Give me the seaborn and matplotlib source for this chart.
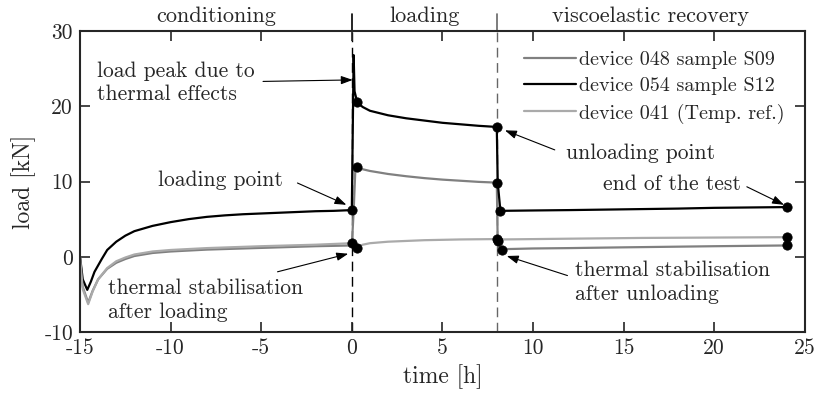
import matplotlib
matplotlib.use('Agg')
import matplotlib.pyplot as plt
import seaborn as sns
import pandas as pd

# values (time in h, load in kN)
t_054 = [-15, -14.85, -14.6, -14.4, -14.2, -13.8, -13.5, -13.0, -12.5, -12.0, -11.0, -10.0,
         -9.0, -8.0, -7.0, -6.0, -5.0, -4.0, -3.0, -2.0, -1.0, 0.0, 0.1, 0.15, 0.3, 0.6,
         1.0, 2.0, 3.0, 4.0, 5.0, 6.0, 7.0, 8.0, 8.05, 8.2, 10.0, 12.0, 15.0, 18.0, 20.0, 24.0]
y_054 = [0, -3.0, -4.4, -3.3, -2.0, -0.3, 0.9, 2.0, 2.8, 3.4, 4.1, 4.6,
         5.0, 5.3, 5.5, 5.65, 5.75, 5.85, 5.95, 6.05, 6.1, 6.2, 26.8, 22.0, 20.5, 19.9,
         19.4, 18.8, 18.4, 18.1, 17.8, 17.6, 17.4, 17.25, 9.9, 6.1, 6.15, 6.2, 6.3, 6.4, 6.5, 6.6]

t_048 = [-15, -14.85, -14.55, -14.3, -14.0, -13.5, -13.0, -12.5, -12.0, -11.0, -10.0, -8.0,
         -6.0, -4.0, -2.0, 0.0, 0.1, 0.2, 0.3, 1.0, 2.0, 3.0, 4.0, 5.0, 6.0, 7.0, 8.0,
         8.05, 8.2, 10.0, 12.0, 15.0, 20.0, 24.0]
y_048 = [0, -4.0, -6.1, -4.5, -3.0, -1.6, -0.8, -0.3, 0.1, 0.5, 0.7, 0.95,
         1.1, 1.25, 1.4, 1.5, 6.0, 11.9, 11.8, 11.4, 11.0, 10.7, 10.45, 10.25, 10.1, 9.95, 9.85,
         2.0, 1.0, 1.1, 1.15, 1.25, 1.4, 1.5]

t_041 = [-15, -14.85, -14.55, -14.3, -14.0, -13.5, -13.0, -12.5, -12.0, -11.0, -10.0, -8.0,
         -5.0, -2.0, 0.0, 0.1, 0.3, 0.6, 1.0, 2.0, 4.0, 6.0, 8.0, 8.1, 8.3, 12.0, 16.0,
         20.0, 24.0]
y_041 = [0, -4.3, -6.3, -4.6, -3.0, -1.5, -0.6, -0.1, 0.3, 0.7, 0.9, 1.15,
         1.4, 1.6, 1.8, 1.3, 1.3, 1.6, 1.8, 2.0, 2.2, 2.3, 2.35, 2.2, 2.3, 2.4, 2.5,
         2.55, 2.6]

# marked points
pt_t = [0.0, 0.3, 0.3, 0.0, 0.3, 8.0, 8.0, 8.2, 8.0, 8.05, 8.3, 24.0, 24.0, 24.0]
pt_y = [6.2, 20.5, 11.9, 1.8, 1.1, 17.25, 9.85, 6.1, 2.4, 2.1, 0.95, 6.6, 2.6, 1.5]

labels = ['device 048 sample S09', 'device 054 sample S12', 'device 041 (Temp. ref.)']
colors = ['#808080', '#000000', '#aaaaaa']

sections = ['conditioning', 'loading', 'viscoelastic recovery']
section_mid = [-7.5, 4.0, 16.5]

xticks = [-15, -10, -5, 0, 5, 10, 15, 20, 25]
yticks = [-10, 0, 10, 20, 30]

sns.set_style('ticks')
plt.rcParams['font.family'] = ['cmr10', 'DejaVu Serif']
plt.rcParams['axes.unicode_minus'] = False

fig = plt.figure(figsize=(8.19, 4.0), dpi=100)
ax = fig.add_axes([0.0977, 0.17, 0.885, 0.7525])

series = [(t_048, y_048), (t_054, y_054), (t_041, y_041)]
for (tt, yy), lab, col in zip(series, labels, colors):
    df = pd.DataFrame({'time': tt, 'load': yy})
    sns.lineplot(x='time', y='load', data=df, sort=False, estimator=None,
                 color=col, lw=1.6, label=lab, ax=ax)

sns.scatterplot(x=pt_t, y=pt_y, color='black', s=45, edgecolor='black',
                zorder=5, ax=ax, legend=False)

ax.axvline(0, color='black', lw=1, ls=(0, (7, 4)), zorder=0)
ax.axvline(8, color='#666666', lw=1, ls=(0, (7, 4)), zorder=0)
ax.axvline(0, ymin=1.0, ymax=1.055, color='black', lw=1.2, clip_on=False)
ax.axvline(8, ymin=1.0, ymax=1.055, color='#666666', lw=1.2, clip_on=False)

for s, m in zip(sections, section_mid):
    ax.text(m, 30.6, s, ha='center', va='bottom', fontsize=16)

ax.set_xlim(-15, 25)
ax.set_ylim(-10, 30)
ax.set_xticks(xticks)
ax.set_xticklabels([str(v) for v in xticks])
ax.set_yticks(yticks)
ax.set_yticklabels([str(v) for v in yticks])
ax.tick_params(direction='in', top=True, right=True, length=7, width=1.2, labelsize=15.5, pad=5)
for sp in ax.spines.values():
    sp.set_linewidth(1.5)
ax.set_xlabel('time [h]', fontsize=17, labelpad=4)
ax.set_ylabel('load [kN]', fontsize=17, labelpad=6)

arrow = dict(arrowstyle='-|>,head_length=0.7,head_width=0.25', color='black', lw=0.8,
             shrinkA=0, shrinkB=0)
notes = [
    ('load peak due to\nthermal effects', -14.05, 23.1, 'left', (-4.9, 23.3), (0.05, 23.5)),
    ('loading point', -3.8, 10.2, 'right', (-3.0, 9.8), (-0.3, 6.9)),
    ('thermal stabilisation\nafter loading', -13.45, -5.8, 'left', (-4.1, -2.0), (-0.2, 0.4)),
    ('unloading point', 11.8, 13.8, 'left', (11.2, 14.2), (8.45, 16.8)),
    ('end of the test', 21.45, 9.7, 'right', (21.8, 9.3), (23.85, 6.9)),
    ('thermal stabilisation\nafter unloading', 12.3, -3.4, 'left', (11.9, -2.5), (8.55, 0.1)),
]
for txt, tx, ty, ha, tail, head in notes:
    ax.text(tx, ty, txt, ha=ha, va='center', fontsize=15.5, linespacing=1.25)
    ax.annotate('', xy=head, xytext=tail, arrowprops=arrow)

ax.legend(loc='upper right', frameon=False, fontsize=14.5, handlelength=2.6,
          handletextpad=0.15, labelspacing=0.4, borderaxespad=0.6)

fig.savefig('out.png', dpi=100)
